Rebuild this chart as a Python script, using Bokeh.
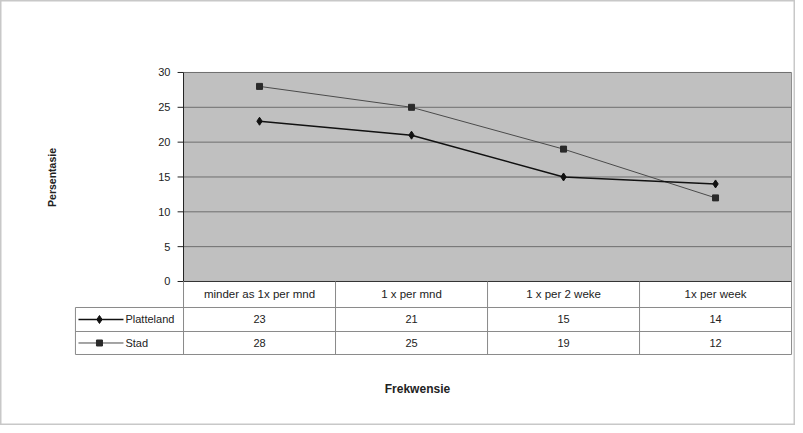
from bokeh.plotting import figure
from bokeh.models import Range1d
from bokeh.core.properties import value
from bokeh.embed import file_html
from bokeh.resources import INLINE
import math

# ---- data ----
categories = ["minder as 1x per mnd", "1 x per mnd", "1 x per 2 weke", "1x per week"]
platteland = [23, 21, 15, 14]
stad = [28, 25, 19, 12]
series_names = ["Platteland", "Stad"]
y_ticks = [0, 5, 10, 15, 20, 25, 30]
y_title = "Persentasie"
x_title = "Frekwensie"

FONT = value("Liberation Sans")
n = len(categories)
xs = [i + 0.5 for i in range(n)]
ymax = y_ticks[-1]

# layout helpers (data units: 1 x-unit = one table column, y in percent)
SY = 6.967
row_h = 26 / SY
r1_bot = -(50 / SY)
r2_bot = -(73 / SY)
leg_left = -0.711

p = figure(width=795, height=425, output_backend="svg", toolbar_location=None,
           x_range=Range1d(-1.204, 4.026), y_range=Range1d(-20.67, 40.33),
           x_axis_type=None, y_axis_type=None, min_border=0)
p.grid.visible = False
p.outline_line_color = "#c8c8c8"
p.outline_line_width = 2
p.background_fill_color = "white"

# plot area
p.quad(left=[0], right=[n], bottom=[0], top=[ymax], fill_color="#c0c0c0", line_color=None)
# gridlines
p.segment(x0=[0] * (len(y_ticks) - 1), x1=[n] * (len(y_ticks) - 1), y0=y_ticks[1:], y1=y_ticks[1:],
          line_color="#6e6e6e", line_width=1)
# plot right border
p.segment(x0=[n], x1=[n], y0=[0], y1=[ymax], line_color="#8a8a8a", line_width=1)
# y axis line + ticks + labels
p.segment(x0=[0], x1=[0], y0=[0], y1=[ymax], line_color="#222222", line_width=1)
p.segment(x0=[-0.039] * len(y_ticks), x1=[0] * len(y_ticks), y0=y_ticks, y1=y_ticks,
          line_color="#222222", line_width=1)
p.text(x=[-0.086] * len(y_ticks), y=y_ticks, text=[str(t) for t in y_ticks],
       text_align="right", text_baseline="middle", text_font=FONT,
       text_font_size="11px", text_color="#222222")

# series
p.line(xs, stad, line_color="#4a4a4a", line_width=1)
p.scatter(xs, stad, marker="square", size=6, fill_color="#2a2a2a", line_color="#2a2a2a")
p.line(xs, platteland, line_color="#111111", line_width=1.5)
p.scatter(xs, platteland, marker="diamond", size=8, fill_color="#111111", line_color="#111111")

# data table grid
hl_y = [0, -row_h, r1_bot, r2_bot]
hl_x0 = [0, leg_left, leg_left, leg_left]
p.segment(x0=hl_x0, x1=[n] * 4, y0=hl_y, y1=hl_y, line_color="#8a8a8a", line_width=1)
p.segment(x0=[0], x1=[n], y0=[0], y1=[0], line_color="#333333", line_width=1)
vx = list(range(0, n + 1))
p.segment(x0=vx, x1=vx, y0=[0] * len(vx), y1=[r2_bot] * len(vx), line_color="#8a8a8a", line_width=1)
p.segment(x0=[leg_left], x1=[leg_left], y0=[-row_h], y1=[r2_bot], line_color="#8a8a8a", line_width=1)

# header text
p.text(x=xs, y=[-row_h / 2] * n, text=categories, text_align="center", text_baseline="middle",
       text_font=FONT, text_font_size="11.5px", text_color="#222222")
# values
r1_mid = (-row_h + r1_bot) / 2
r2_mid = (r1_bot + r2_bot) / 2
p.text(x=xs, y=[r1_mid] * n, text=[str(v) for v in platteland], text_align="center",
       text_baseline="middle", text_font=FONT, text_font_size="11px", text_color="#222222")
p.text(x=xs, y=[r2_mid] * n, text=[str(v) for v in stad], text_align="center",
       text_baseline="middle", text_font=FONT, text_font_size="11px", text_color="#222222")

# legend keys in table
p.segment(x0=[-0.691, -0.691], x1=[-0.395, -0.395], y0=[r1_mid, r2_mid], y1=[r1_mid, r2_mid],
          line_color=["#111111", "#4a4a4a"], line_width=[1.5, 1])
p.scatter([-0.553], [r1_mid], marker="diamond", size=8, fill_color="#111111", line_color="#111111")
p.scatter([-0.553], [r2_mid], marker="square", size=6, fill_color="#2a2a2a", line_color="#2a2a2a")
p.text(x=[-0.382, -0.382], y=[r1_mid, r2_mid], text=series_names, text_align="left",
       text_baseline="middle", text_font=FONT, text_font_size="11px", text_color="#222222")

# axis titles
p.text(x=[-0.862], y=[14.93], text=[y_title], angle=math.pi / 2, text_align="center",
       text_baseline="middle", text_font=FONT, text_font_size="10.5px", text_font_style="bold",
       text_color="#222222")
p.text(x=[1.539], y=[-15.5], text=[x_title], text_align="center", text_baseline="middle",
       text_font=FONT, text_font_size="12px", text_font_style="bold", text_color="#222222")

open("out.html", "w").write(file_html(p, INLINE))
